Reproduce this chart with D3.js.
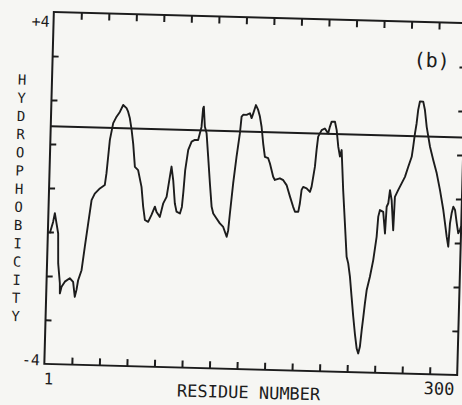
<!DOCTYPE html>
<html>
<head>
<meta charset="utf-8">
<script src="https://cdn.jsdelivr.net/npm/d3@7"></script>
<style>
body { margin: 0; background: #f6f6f3; }
svg { display: block; }
text { font-family: "DejaVu Sans Mono", monospace; fill: #1c1c1c; }
</style>
</head>
<body>
<div id="hydro-plot"></div>
<script>
// residue positions and hydrophobicity values
const residues = [1.4, 3.6, 4.7, 6.1, 7.5, 8.1, 9.7, 9.9, 11.0, 13.3, 16.8, 19.3, 20.8, 21.9, 22.9, 25.2, 27.1, 29.1, 31.1, 33.3,
    36.9, 40.4, 41.4, 42.3, 43.2, 45.3, 47.6, 49.9, 52.2, 54.7, 55.9, 57.3, 58.8, 60.2, 61.9, 64.3, 67.1, 68.7, 70.2, 72.6,
    74.9, 77.2, 78.5, 81.0, 83.2, 85.5, 87.5, 88.5, 90.0, 91.6, 93.0, 95.5, 96.8, 97.6, 98.5, 100.3, 102.6, 104.9, 107.3, 108.4,
    109.5, 110.3, 110.8, 111.9, 113.3, 114.9, 116.7, 118.4, 119.7, 122.2, 124.7, 127.2, 129.9, 130.9, 131.8, 133.6, 135.5, 137.5, 138.4, 139.5,
    142.0, 144.4, 145.7, 146.8, 148.6, 150.3, 151.7, 153.1, 154.6, 156.1, 158.5, 159.9, 162.5, 163.8, 167.4, 169.9, 172.4, 175.1, 177.6, 179.0,
    181.4, 182.4, 183.4, 184.5, 187.0, 189.5, 190.6, 192.6, 193.5, 194.4, 196.8, 199.1, 201.6, 202.7, 203.9, 206.3, 207.7, 209.2, 210.6, 211.7,
    212.5, 213.6, 215.5, 217.4, 218.7, 220.2, 221.8, 223.4, 224.9, 226.5, 227.7, 228.8, 229.8, 230.7, 231.6, 232.6, 234.7, 236.8, 238.8, 239.6,
    240.7, 243.1, 244.8, 245.5, 246.6, 247.6, 249.0, 250.7, 251.3, 253.6, 255.9, 258.2, 260.4, 262.7, 263.6, 264.6, 265.6, 266.5, 267.6, 270.0,
    271.4, 273.0, 275.8, 278.4, 281.2, 283.9, 286.7, 288.2, 289.7, 291.0, 291.8, 292.8, 293.9, 295.2, 296.7, 298.0, 299.2, 300];
const hydro = [-1.03, -0.77, -0.57, -0.80, -1.03, -1.71, -2.16, -2.39, -2.24, -2.12, -2.04, -2.12, -2.46, -2.30, -2.08, -1.85, -1.32, -0.78, -0.25, -0.10,
    0.02, 0.10, 0.37, 0.75, 1.13, 1.51, 1.66, 1.77, 1.93, 1.86, 1.78, 1.63, 1.37, 1.06, 0.53, 0.46, 0.08, -0.37, -0.67, -0.71,
    -0.55, -0.36, -0.48, -0.59, -0.28, -0.13, 0.33, 0.56, 0.25, -0.27, -0.46, -0.50, -0.35, 0.0, 0.49, 0.95, 1.14, 1.18, 1.18, 1.33,
    1.48, 1.90, 1.94, 1.49, 1.34, 0.81, 0.20, -0.33, -0.48, -0.59, -0.70, -0.78, -1.00, -0.85, -0.47, 0.22, 0.82, 1.36, 1.74, 1.78,
    1.78, 1.82, 1.71, 1.82, 2.01, 1.90, 1.75, 1.52, 1.14, 0.84, 0.81, 0.69, 0.39, 0.32, 0.36, 0.32, 0.21, -0.05, -0.28, -0.39,
    -0.39, -0.20, 0.11, 0.18, 0.15, 0.07, 0.19, 0.64, 1.03, 1.33, 1.48, 1.52, 1.41, 1.56, 1.68, 1.68, 1.49, 1.11, 0.89, 1.04,
    0.66, 0.13, -0.62, -1.38, -1.53, -1.83, -2.29, -2.74, -3.12, -3.46, -3.57, -3.42, -3.04, -2.74, -2.43, -2.13, -1.82, -1.44, -0.91, -0.45,
    -0.30, -0.34, -0.83, -0.22, -0.14, 0.16, -0.07, -0.75, 0.01, 0.17, 0.32, 0.47, 0.70, 0.93, 1.16, 1.46, 1.69, 2.00, 2.19, 2.19,
    2.00, 1.62, 1.17, 0.87, 0.57, 0.19, -0.26, -0.56, -0.87, -1.09, -0.56, -0.33, -0.18, -0.25, -0.55, -0.78, -0.70, -0.62];

const xTicks = [20, 40, 60, 80, 100, 120, 140, 160, 180, 200, 220, 240, 260, 280];
const yTicks = [-3, -2, -1, 0, 1, 2, 3];
const xEndLabels = ["1", "300"];
const yEndLabels = ["+4", "-4"];
const cutoff = 1.4;
const yTitle = "HYDROPHOBICITY";
const xTitle = "RESIDUE NUMBER";
const panelTag = "(b)";

let margin = {top: 17.5, left: 49}
    , width = 413
    , height = 352;

let svg = d3.select("#hydro-plot").append("svg")
    .attr("width", 462)
    .attr("height", 405);

// the scanned page is tilted a little clockwise
let g = svg.append("g")
    .attr("transform", "rotate(1.55, 255.5, 193.5) translate(" + margin.left + "," + margin.top + ")");

let x = d3.scaleLinear().domain([0, 300]).range([0, width]);
let y = d3.scaleLinear().domain([-4, 4]).range([height, 0]);

let ink = "#1c1c1c";

// inward ticks on all four sides
g.append("g")
    .attr("transform", "translate(0," + height + ")")
    .call(d3.axisBottom(x).tickValues(xTicks).tickSize(-7).tickFormat(""));
g.append("g")
    .call(d3.axisTop(x).tickValues(xTicks).tickSize(-7).tickFormat(""));
g.append("g")
    .call(d3.axisLeft(y).tickValues(yTicks).tickSize(-6).tickFormat(""));
g.append("g")
    .attr("transform", "translate(" + width + ",0)")
    .call(d3.axisRight(y).tickValues(yTicks).tickSize(-6).tickFormat(""));

g.selectAll(".domain").remove();
g.selectAll(".tick line").attr("stroke", ink).attr("stroke-width", 2);

g.append("rect")
    .attr("width", width)
    .attr("height", height)
    .attr("fill", "none")
    .attr("stroke", ink)
    .attr("stroke-width", 2);

// threshold line
g.append("line")
    .attr("x1", 0).attr("x2", width)
    .attr("y1", y(cutoff)).attr("y2", y(cutoff))
    .attr("stroke", ink)
    .attr("stroke-width", 2);

let points = residues.map((r, i) => [r, hydro[i]]);

g.append("path")
    .datum(points)
    .attr("fill", "none")
    .attr("stroke", ink)
    .attr("stroke-width", 1.9)
    .attr("stroke-linejoin", "round")
    .attr("d", d3.line().x(d => x(d[0])).y(d => y(d[1])));

// end labels
g.append("text").attr("x", -4).attr("y", y(4) + 10).attr("text-anchor", "end")
    .attr("dominant-baseline", "central").style("font-size", "15px").text(yEndLabels[0]);
g.append("text").attr("x", -4.5).attr("y", y(-4) - 3.5).attr("text-anchor", "end")
    .attr("dominant-baseline", "central").style("font-size", "15px").text(yEndLabels[1]);
g.append("text").attr("x", x(0) + 4.5).attr("y", height + 15).attr("text-anchor", "middle")
    .attr("dominant-baseline", "central").style("font-size", "16px").text(xEndLabels[0]);
g.append("text").attr("x", x(300) - 17.7).attr("y", height + 14).attr("text-anchor", "middle")
    .attr("dominant-baseline", "central").style("font-size", "17px").text(xEndLabels[1]);

g.append("text")
    .attr("x", width / 2 - 1.5)
    .attr("y", height + 23)
    .attr("text-anchor", "middle")
    .attr("dominant-baseline", "central")
    .style("font-size", "17px")
    .text(xTitle);

g.append("text")
    .attr("x", 379)
    .attr("y", 38)
    .attr("text-anchor", "middle")
    .attr("dominant-baseline", "central")
    .style("font-size", "20px")
    .text(panelTag);

// stacked letters of the y title
g.selectAll(".ytitle")
    .data(yTitle.split(""))
    .enter().append("text")
    .attr("class", "ytitle")
    .attr("x", -30)
    .attr("y", (d, i) => 68.5 + i * 18.2)
    .attr("text-anchor", "middle")
    .attr("dominant-baseline", "central")
    .style("font-size", "14px")
    .text(d => d);
</script>
</body>
</html>
